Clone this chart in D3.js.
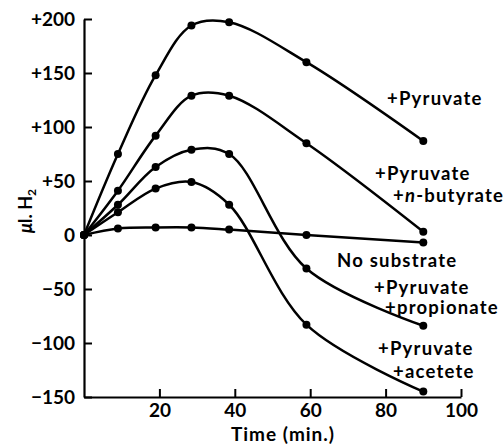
<!DOCTYPE html>
<html>
<head>
<meta charset="utf-8">
<script src="https://cdn.jsdelivr.net/npm/d3@7"></script>
<style>
  body { margin: 0; background: #fff; }
  svg { display: block; }
</style>
</head>
<body>
<div id="chart"></div>
<script>
// Hydrogen uptake over time

const times = [0, 9, 19, 28.5, 38.5, 59, 90];
const pyruvate = [0, 75, 148, 194, 197, 160, 87];
const butyrate = [0, 41, 92, 129, 129, 85, 3];
const propionate = [0, 28, 63, 79, 75, -31, -84];
const acetete = [0, 21, 43, 49, 28, -83, -145];
const noSubstrate = [0, 6, 7, 7, 5, 0, -7];

const xTicks = [20, 40, 60, 80, 100];
const yTicks = [200, 150, 100, 50, 0, -50, -100, -150];

const seriesLabels = [
    { values: pyruvate, lines: ['+Pyruvate'] },
    { values: butyrate, lines: ['+Pyruvate', '+n-butyrate'] },
    { values: noSubstrate, lines: ['No substrate'] },
    { values: propionate, lines: ['+Pyruvate', '+propionate'] },
    { values: acetete, lines: ['+Pyruvate', '+acetete'] }
];

function drawChart() {
    const width = 503, height = 447;
    const font = 'Lato, "Open Sans", sans-serif';

    const svg = d3.select('#chart').append('svg')
        .attr('width', width)
        .attr('height', height);

    // Scales
    const x = d3.scaleLinear().domain([0, 100]).range([84, 461]);
    const y = d3.scaleLinear().domain([-150, 200]).range([397, 19]);

    // Axes
    const xAxis = svg.append('g')
        .attr('transform', `translate(0,${y(-150)})`)
        .call(d3.axisBottom(x).tickValues(xTicks).tickSizeInner(-8).tickSizeOuter(0).tickPadding(7));

    const yAxis = svg.append('g')
        .attr('transform', `translate(${x(0)},0)`)
        .call(d3.axisLeft(y).tickValues(yTicks).tickSizeInner(-8).tickSizeOuter(0)
            .tickPadding(9)
            .tickFormat(d => d > 0 ? '+' + d : (d < 0 ? '\u2212' + Math.abs(d) : '0')));

    [xAxis, yAxis].forEach(a => {
        a.select('.domain').attr('stroke', '#000').attr('stroke-width', 2.2);
        a.selectAll('.tick line').attr('stroke', '#000').attr('stroke-width', 2);
        a.selectAll('.tick text')
            .attr('fill', '#000')
            .attr('font-family', font)
            .attr('font-weight', 'bold')
            .attr('font-size', '19px');
    });
    yAxis.selectAll('.tick text').attr('dy', '0.36em');

    // Axis titles
    svg.append('text')
        .attr('x', 283)
        .attr('y', 441)
        .attr('text-anchor', 'middle')
        .attr('font-family', font)
        .attr('font-weight', 'bold')
        .attr('font-size', '19px')
        .attr('letter-spacing', '1px')
        .text('Time (min.)');

    const yTitle = svg.append('text')
        .attr('transform', 'translate(32,211) rotate(-90)')
        .attr('text-anchor', 'middle')
        .attr('font-family', font)
        .attr('font-weight', 'bold')
        .attr('font-size', '18px');
    yTitle.append('tspan').attr('font-style', 'italic').text('\u03bc');
    yTitle.append('tspan').text('l. H');
    yTitle.append('tspan').attr('font-size', '12px').attr('dy', 4).text('2');

    // Curves
    const line = d3.line()
        .x((d, i) => x(times[i]))
        .y(d => y(d))
        .curve(d3.curveCatmullRom.alpha(0.5));

    seriesLabels.forEach(s => {
        svg.append('path')
            .datum(s.values)
            .attr('fill', 'none')
            .attr('stroke', '#000')
            .attr('stroke-width', 2.5)
            .attr('d', line);

        svg.selectAll(null)
            .data(s.values)
            .enter()
            .append('circle')
            .attr('cx', (d, i) => x(times[i]))
            .attr('cy', d => y(d))
            .attr('r', 4)
            .attr('fill', '#000');
    });

    // Series labels
    const labelPos = [
        [[387, 105]],
        [[375, 180], [393, 202]],
        [[337, 267]],
        [[374, 294], [385, 314]],
        [[378, 355], [393, 378]]
    ];

    seriesLabels.forEach((s, k) => {
        s.lines.forEach((txt, j) => {
            const t = svg.append('text')
                .attr('x', labelPos[k][j][0])
                .attr('y', labelPos[k][j][1])
                .attr('font-family', font)
                .attr('font-weight', 'bold')
                .attr('font-size', '18.5px')
                .attr('letter-spacing', '1.2px');
            if (txt === '+n-butyrate') {
                t.append('tspan').text('+');
                t.append('tspan').attr('font-style', 'italic').text('n');
                t.append('tspan').text('-butyrate');
            } else {
                t.text(txt);
            }
        });
    });
}

drawChart();
</script>
</body>
</html>
